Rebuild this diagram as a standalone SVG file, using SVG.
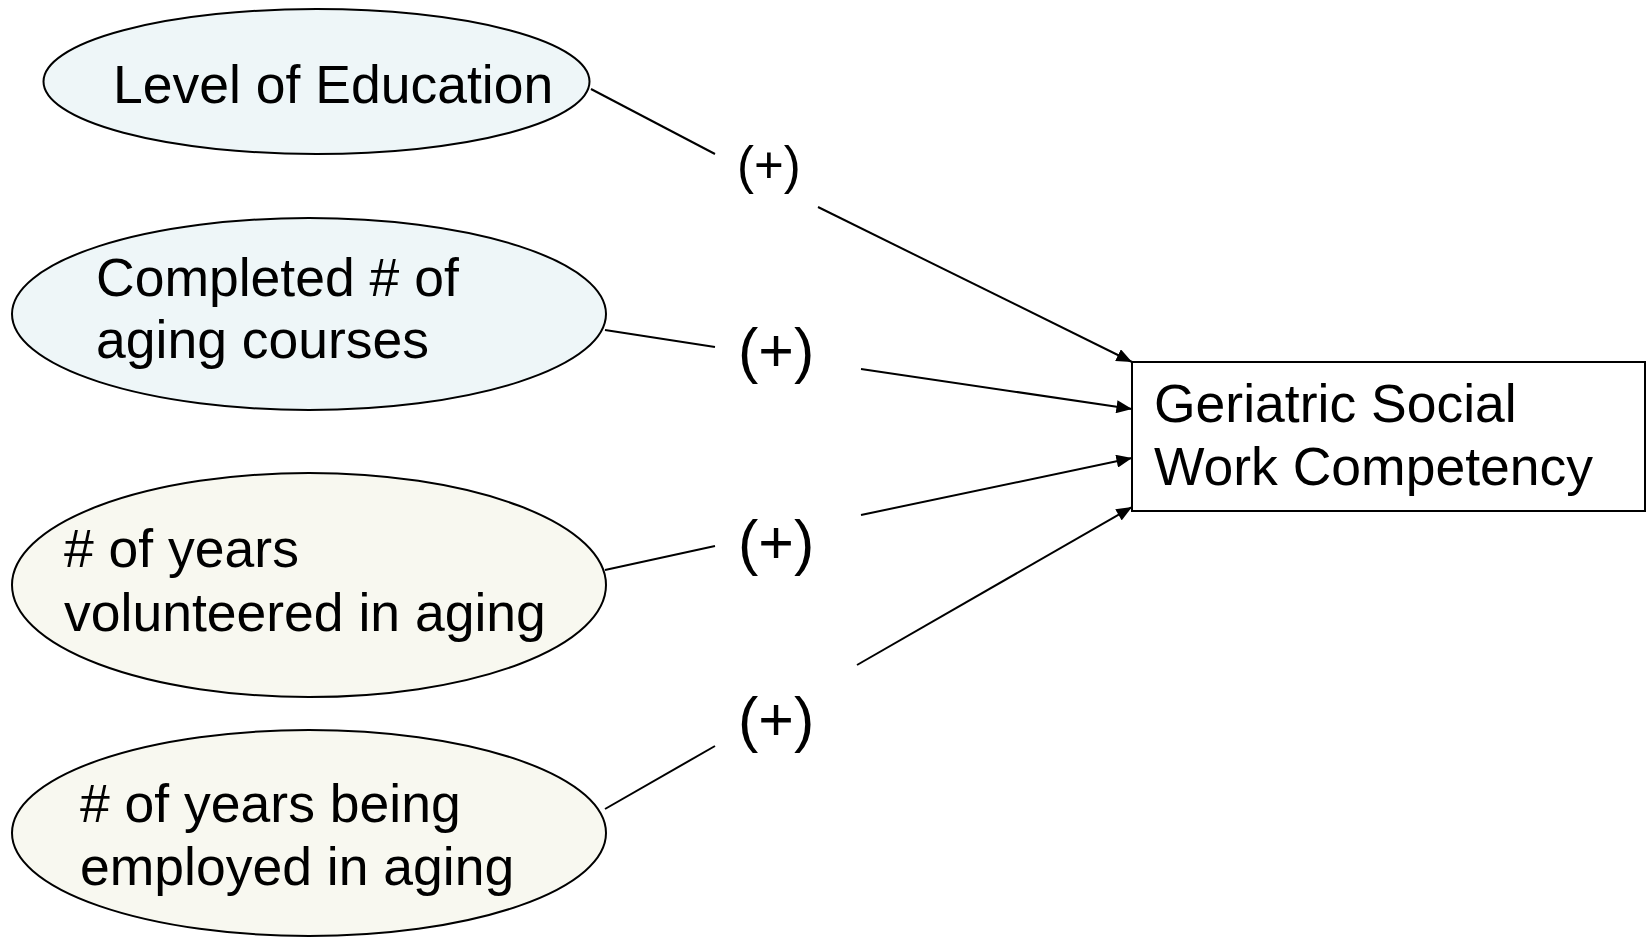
<svg xmlns="http://www.w3.org/2000/svg" width="1649" height="937" viewBox="0 0 1649 937">
<defs>
<style>
.node-e{stroke:#000;stroke-width:2}
.blue{fill:#eef6f8}
.cream{fill:#f8f8f0}
.t{font-family:"Liberation Sans",Arial,sans-serif;font-size:53.5px;fill:#000}
.p{font-family:"Liberation Sans",Arial,sans-serif;fill:#000}
.c{stroke:#000;stroke-width:2;fill:none}
</style>
<marker id="arrow" viewBox="0 0 12 10" refX="12" refY="5" markerWidth="16" markerHeight="13" markerUnits="userSpaceOnUse" orient="auto">
<path d="M0,0 L12,5 L0,10 z" fill="#000"/>
</marker>
</defs>
<rect width="1649" height="937" fill="#fff"/>
<g id="n-education">
<ellipse class="node-e blue" cx="316.5" cy="81.5" rx="273" ry="72.5"/>
<text class="t" x="113" y="103">Level of Education</text>
</g>
<g id="n-courses">
<ellipse class="node-e blue" cx="309" cy="314" rx="297" ry="96"/>
<text class="t" x="96" y="296">Completed # of</text>
<text class="t" x="96" y="358">aging courses</text>
</g>
<g id="n-volunteer">
<ellipse class="node-e cream" cx="309" cy="585" rx="297" ry="112"/>
<text class="t" x="64" y="567"># of years</text>
<text class="t" x="64" y="631">volunteered in aging</text>
</g>
<g id="n-employed">
<ellipse class="node-e cream" cx="309" cy="833" rx="297" ry="103"/>
<text class="t" x="80" y="822"># of years being</text>
<text class="t" x="80" y="885">employed in aging</text>
</g>
<g id="n-competency">
<rect x="1132" y="362" width="513" height="149" fill="#fff" stroke="#000" stroke-width="2"/>
<text class="t" x="1154" y="422">Geriatric Social</text>
<text class="t" x="1154" y="485">Work Competency</text>
</g>
<g id="connectors">
<line class="c" x1="591" y1="89" x2="715" y2="154"/>
<line class="c" x1="818" y1="207" x2="1132" y2="362" marker-end="url(#arrow)"/>
<line class="c" x1="605" y1="330" x2="715" y2="347"/>
<line class="c" x1="861" y1="369" x2="1132" y2="409" marker-end="url(#arrow)"/>
<line class="c" x1="605" y1="570" x2="715" y2="546"/>
<line class="c" x1="861" y1="515" x2="1132" y2="458" marker-end="url(#arrow)"/>
<line class="c" x1="605" y1="809" x2="715" y2="746"/>
<line class="c" x1="857" y1="665" x2="1132" y2="507" marker-end="url(#arrow)"/>
</g>
<g id="labels">
<text class="p" x="737" y="183" font-size="51">(+)</text>
<text class="p" x="738" y="371" font-size="61">(+)</text>
<text class="p" x="738" y="563" font-size="61">(+)</text>
<text class="p" x="738" y="740" font-size="61">(+)</text>
</g>
</svg>
